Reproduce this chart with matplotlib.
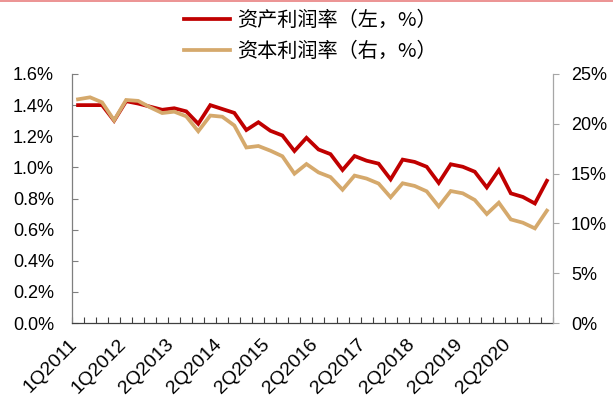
"""Quarterly bank return-on-assets vs return-on-equity, dual axis line chart."""

from __future__ import annotations

import matplotlib

matplotlib.use("Agg")
import matplotlib.pyplot as plt
from matplotlib.lines import Line2D
from matplotlib.ticker import FuncFormatter, MultipleLocator
from matplotlib.transforms import ScaledTranslation

plt.rcParams["font.family"] = ["Liberation Sans", "DejaVu Sans"]

# ROA, left axis (%)
roa = [
    1.40, 1.40, 1.40, 1.30, 1.425, 1.41, 1.39, 1.37, 1.38, 1.36,
    1.28, 1.40, 1.375, 1.35, 1.24, 1.29, 1.235, 1.205, 1.105, 1.19,
    1.115, 1.085, 0.983, 1.073, 1.043, 1.024, 0.923, 1.05, 1.035, 1.004,
    0.90, 1.02, 1.004, 0.972, 0.871, 0.983, 0.833, 0.81, 0.768, 0.914,
]
# ROE, right axis (%)
roe = [
    22.46, 22.66, 22.15, 20.35, 22.39, 22.30, 21.65, 21.08, 21.22, 20.75,
    19.25, 20.83, 20.71, 19.83, 17.62, 17.77, 17.30, 16.74, 14.99, 15.96,
    15.12, 14.65, 13.38, 14.80, 14.50, 14.00, 12.62, 14.03, 13.76, 13.22,
    11.70, 13.25, 13.02, 12.35, 10.94, 12.08, 10.40, 10.07, 9.50, 11.28,
]
# every fourth period carries a label
x_labels = ["1Q2011", "1Q2012", "2Q2013", "2Q2014", "2Q2015",
            "2Q2016", "2Q2017", "2Q2018", "2Q2019", "2Q2020"]
roa_label = "资产利润率（左，%）"
roe_label = "资本利润率（右，%）"

RED = "#C00000"
GOLD = "#D5A96C"
CJK = ["Noto Sans CJK SC", "DejaVu Sans"]


def plot_profitability(output_path: str = "out.png") -> None:
    fig = plt.figure(figsize=(6.13, 4.0), dpi=100)
    ax = fig.add_axes([0.1175, 0.1925, 0.7845, 0.6225])
    ax2 = ax.twinx()

    quarters = range(len(roa))
    line_roa, = ax.plot(quarters, roa, color=RED, lw=2.7, solid_joinstyle="miter")
    line_roe, = ax2.plot(quarters, roe, color=GOLD, lw=2.7, solid_joinstyle="miter")

    ax.set_xlim(-0.5, len(roa) - 0.5)
    ax.set_ylim(0, 1.6)
    ax2.set_ylim(0, 25)
    ax.yaxis.set_major_locator(MultipleLocator(0.2))
    ax2.yaxis.set_major_locator(MultipleLocator(5))
    ax.yaxis.set_major_formatter(FuncFormatter(lambda v, _: f"{v:.1f}%"))
    ax2.yaxis.set_major_formatter(FuncFormatter(lambda v, _: f"{v:.0f}%"))

    # tick marks on category boundaries, labels on every 4th category
    ax.set_xticks([k - 0.5 for k in range(len(roa) + 1)])
    ax.set_xticklabels([])
    ax.set_xticks([4 * k for k in range(len(x_labels))], minor=True)
    ax.set_xticklabels(x_labels, minor=True, rotation=45, ha="right", va="top",
                       rotation_mode="anchor", fontsize=14)
    ax.tick_params(axis="x", which="major", direction="in", length=4,
                   width=0.8, color="#404040")
    ax.tick_params(axis="x", which="minor", length=0, pad=9)
    nudge = ScaledTranslation(-0.09, 0.0, fig.dpi_scale_trans)
    for lbl in ax.xaxis.get_minorticklabels():
        lbl.set_transform(lbl.get_transform() + nudge)

    ax.tick_params(axis="y", direction="in", length=4, width=0.8,
                   color="#7f7f7f", labelsize=13, pad=13)
    ax2.tick_params(axis="y", direction="out", length=4, width=0.8,
                    color="#a6a6a6", labelsize=13, pad=9)

    ax.spines["top"].set_visible(False)
    ax2.spines["top"].set_visible(False)
    ax2.spines["left"].set_visible(False)
    ax2.spines["bottom"].set_visible(False)
    ax.spines["right"].set_visible(False)
    ax.spines["left"].set_color("#7f7f7f")
    ax.spines["bottom"].set_color("#404040")
    ax2.spines["right"].set_color("#a6a6a6")
    for spine in (ax.spines["left"], ax.spines["bottom"], ax2.spines["right"]):
        spine.set_linewidth(0.9)

    fig.legend([line_roa, line_roe], [roa_label, roe_label],
               loc="upper left", bbox_to_anchor=(0.287, 0.995),
               frameon=False, handlelength=2.3, handletextpad=0.35,
               labelspacing=0.5, borderaxespad=0,
               prop={"family": CJK, "size": 14.5})

    # thin header rule along the top edge
    fig.add_artist(Line2D([0, 1], [0.9985, 0.9985], transform=fig.transFigure,
                          color="#E98080", lw=1.2))

    fig.savefig(output_path, dpi=100)
    plt.close(fig)


if __name__ == "__main__":
    plot_profitability()
